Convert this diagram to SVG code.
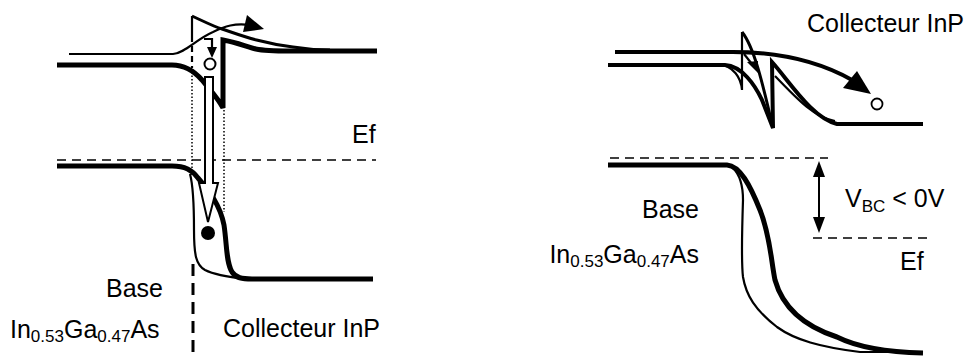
<svg xmlns="http://www.w3.org/2000/svg" width="974" height="356" viewBox="0 0 974 356">
<style>
.t{font-family:"Liberation Sans",Arial,sans-serif;font-size:25px;fill:#000}
.s{font-size:17px}
.k{fill:none;stroke:#000;stroke-width:5;stroke-linecap:butt;stroke-linejoin:miter}
.m{fill:none;stroke:#000;stroke-width:3}
.n{fill:none;stroke:#000;stroke-width:2.2}
.d{fill:none;stroke:#000;stroke-width:1.6;stroke-dasharray:9,6}
.o{fill:none;stroke:#000;stroke-width:1.5;stroke-dasharray:1.5,2}
.h{fill:#000}
</style>
<rect width="974" height="356" fill="#fff"/>
<g id="left">
  <line class="d" x1="57" y1="160" x2="376" y2="160"/>
  <line class="o" x1="192" y1="72" x2="192" y2="177"/>
  <line class="o" x1="224" y1="110" x2="224" y2="212"/>
  <line class="n" x1="192" y1="16" x2="192" y2="36"/>
  <line x1="192" y1="36" x2="192" y2="68" stroke="#000" stroke-width="2.2" stroke-dasharray="6,4"/>
  <path class="m" d="M192,16 C205,22 215,27 222,29 C240,35 260,43 293,47 C305,49 315,50 330,50"/>
  <path class="k" d="M57,65 H172 C185,65 195,72 202,80 C210,90 218,98 223,108 V40 C235,42 245,46 256,49 C265,51 275,51 290,51 H377"/>
  <path class="k" d="M57,166 H172 C185,166 192,170 198,178 C210,192 220,205 224,225 C227,245 226,262 232,272 C236,278 242,279 252,279 H373"/>
  <path class="n" d="M190,174 C193,185 194,200 194,230 C194,255 196,265 205,270 C215,275 228,277 245,279"/>
  <line x1="193" y1="264" x2="193" y2="356" stroke="#000" stroke-width="3" stroke-dasharray="12,7"/>
  <path class="n" d="M69,54 H173 C185,53 195,40 213,32 C225,26 235,23 250,25"/>
  <polygon class="h" points="247,15 264,29 243,32"/>
  <path class="n" d="M204,39 H212 V49"/>
  <polygon class="h" points="207,47 217,47 212,58"/>
  <circle cx="210" cy="64" r="5.5" fill="#fff" stroke="#000" stroke-width="2"/>
  <polygon points="205,77 213,77 213,183 218,183 208,222 199,183 205,183" fill="#fff" stroke="#000" stroke-width="2"/>
  <circle cx="208" cy="233" r="7" fill="#000"/>
  <text class="t" x="352" y="143">Ef</text>
  <text class="t" x="163" y="297" text-anchor="end">Base</text>
  <text class="t" x="10" y="338">In<tspan class="s" dy="4">0.53</tspan><tspan dy="-4">Ga</tspan><tspan class="s" dy="4">0.47</tspan><tspan dy="-4">As</tspan></text>
  <text class="t" x="223" y="337">Collecteur InP</text>
</g>
<g id="right">
  <line class="d" x1="610" y1="158" x2="828" y2="158"/>
  <line class="d" x1="813" y1="238" x2="930" y2="238"/>
  <path class="k" d="M615,52 H733 C780,52 820,62 852,80" style="stroke-width:4"/>
  <polygon class="h" points="843,88 857,71 871,94"/>
  <circle cx="877" cy="104" r="5.5" fill="#fff" stroke="#000" stroke-width="1.8"/>
  <path class="k" d="M608,65 H725 C742,66 755,85 762,100 L773,128 L772,62 C790,82 812,118 837,124 H923" style="stroke-width:4"/>
  <path class="n" d="M718,64 C734,66 741,78 742,90 V32"/>
  <path class="m" d="M742,32 C755,48 764,90 773,128"/>
  <path class="n" d="M775,76 C798,100 815,118 835,121"/>
  <line class="n" x1="744" y1="54" x2="752" y2="64"/>
  <polygon class="h" points="747,62 758,61 758,73"/>
  <path class="k" d="M608,165 H727 C740,166 750,185 760,210 C770,235 771,260 775,280 C782,305 800,325 837,337 C855,346 880,352 923,353"/>
  <path class="n" d="M733,168 C740,175 743,185 743,200 C742,230 741,260 743,277 C746,295 755,310 777,327 C795,340 820,347 860,352 H923"/>
  <line x1="819" y1="172" x2="819" y2="220" stroke="#000" stroke-width="2"/>
  <polygon class="h" points="819,161 813,177 825,177"/>
  <polygon class="h" points="819,233 813,217 825,217"/>
  <text class="t" x="807" y="32">Collecteur InP</text>
  <text class="t" x="845" y="207">V<tspan class="s" dy="5">BC</tspan><tspan dy="-5"> &lt; 0V</tspan></text>
  <text class="t" x="900" y="270">Ef</text>
  <text class="t" x="699" y="218" text-anchor="end">Base</text>
  <text class="t" x="699" y="263" text-anchor="end">In<tspan class="s" dy="4">0.53</tspan><tspan dy="-4">Ga</tspan><tspan class="s" dy="4">0.47</tspan><tspan dy="-4">As</tspan></text>
</g>
</svg>
